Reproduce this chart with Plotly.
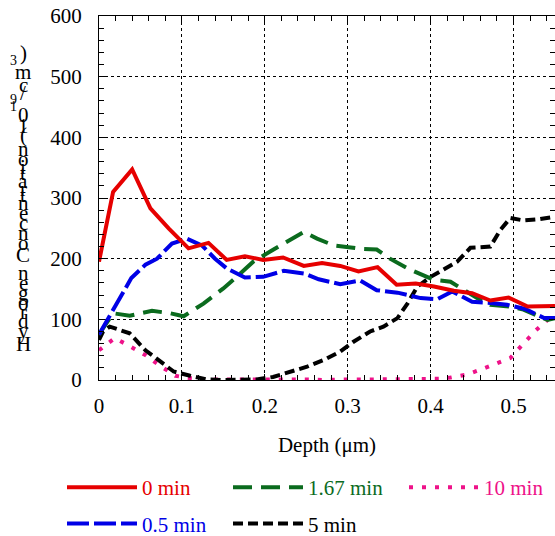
import plotly.graph_objects as go

# ---------------- data ----------------
x_0min = [0, 0.017, 0.040, 0.062, 0.084, 0.108, 0.132, 0.154, 0.176, 0.198, 0.222,
          0.247, 0.269, 0.291, 0.313, 0.336, 0.359, 0.382, 0.404, 0.428, 0.450,
          0.472, 0.494, 0.517, 0.550]
y_0min = [195, 310, 347, 283, 250, 217, 226, 198, 204, 198, 202,
          188, 193, 188, 179, 186, 157, 159, 154, 147, 143,
          131, 136, 121, 122]

x_05min = [0, 0.019, 0.039, 0.056, 0.070, 0.088, 0.106, 0.124, 0.140, 0.154, 0.176,
           0.198, 0.223, 0.249, 0.265, 0.291, 0.315, 0.335, 0.360, 0.388, 0.408,
           0.426, 0.450, 0.472, 0.492, 0.514, 0.537, 0.550]
y_05min = [75, 121, 168, 190, 200, 225, 233, 222, 200, 184, 169,
           170, 180, 175, 166, 158, 164, 148, 144, 135, 133,
           146, 129, 127, 124, 117, 102, 102]

x_167min = [0, 0.017, 0.037, 0.064, 0.086, 0.102, 0.126, 0.150, 0.166, 0.186, 0.209,
            0.231, 0.247, 0.263, 0.283, 0.301, 0.317, 0.335, 0.351, 0.372, 0.388,
            0.404, 0.424, 0.440, 0.456, 0.472, 0.496, 0.512, 0.541, 0.550]
y_167min = [75, 110, 106, 114, 110, 105, 126, 151, 170, 195, 214,
            232, 244, 233, 222, 219, 216, 215, 200, 184, 175,
            165, 162, 148, 135, 124, 121, 116, 99, 102]

x_5min = [0, 0.005, 0.013, 0.037, 0.056, 0.074, 0.090, 0.110, 0.130, 0.150, 0.170,
          0.190, 0.210, 0.231, 0.251, 0.271, 0.291, 0.307, 0.327, 0.343, 0.360,
          0.372, 0.384, 0.400, 0.416, 0.432, 0.448, 0.472, 0.484, 0.496, 0.512,
          0.531, 0.550]
y_5min = [66, 80, 88, 77, 49, 30, 14, 7, 1, 0, 0,
          1, 5, 14, 22, 33, 47, 63, 80, 88, 102,
          126, 154, 170, 182, 195, 218, 220, 247, 267, 263,
          265, 269]

x_10min = [0, 0.019, 0.037, 0.056, 0.072, 0.092, 0.110, 0.130, 0.150, 0.170, 0.190,
           0.210, 0.230, 0.250, 0.270, 0.290, 0.310, 0.330, 0.350, 0.370, 0.390,
           0.410, 0.424, 0.444, 0.462, 0.478, 0.496, 0.512, 0.527, 0.545, 0.550]
y_10min = [49, 69, 56, 41, 25, 7, 3, 1, 1, 1, 2,
           2, 1, 1, 0, 1, 1, 1, 1, 1, 1,
           2, 4, 9, 18, 27, 36, 60, 82, 104, 104]

series_names = ["0 min", "0.5 min", "1.67 min", "5 min", "10 min"]
x_ticks = [0, 0.1, 0.2, 0.3, 0.4, 0.5]
x_tick_labels = ["0", "0.1", "0.2", "0.3", "0.4", "0.5"]
y_ticks = [0, 100, 200, 300, 400, 500, 600]
x_title = "Depth (μm)"
y_title_parts = [("Hydrogen Concentration (10", False), ("19", True), ("/cm", False),
                 ("3", True), (")", False)]

# ---------------- layout constants ----------------
FONT = "Liberation Serif"
W, H = 555, 536
L, R, T, B = 99, 0, 16, 156
PW, PH = W - L - R, H - T - B

fig = go.Figure()

def add(xs, ys, name, color, dash, legend, rank):
    fig.add_trace(go.Scatter(
        x=xs, y=ys, mode="lines",
        name=f"<span style='color:{color}'>{name}</span>",
        line=dict(color=color, width=4, dash=dash),
        legend=legend, legendgroup=name, legendrank=rank, hoverinfo="skip"))

add(x_10min, y_10min, series_names[4], "#EE1289", "4px,9px", "legend3", 1)
add(x_5min, y_5min, series_names[3], "#000000", "10px,5px", "legend2", 2)
add(x_167min, y_167min, series_names[2], "#0B6B1E", "19px,9px", "legend2", 1)
add(x_05min, y_05min, series_names[1], "#0000E6", "22px,5px", "legend", 2)
add(x_0min, y_0min, series_names[0], "#E60000", "solid", "legend", 1)

axis_common = dict(
    showline=True, linecolor="black", linewidth=1, mirror="ticks",
    ticks="inside", ticklen=6, tickcolor="black", tickwidth=1,
    showgrid=True, gridcolor="black", gridwidth=1, griddash="3px,3px",
    zeroline=False, tickfont=dict(family=FONT, size=21, color="black"),
)

fig.update_xaxes(range=[0, 0.55], tickvals=x_ticks, ticktext=x_tick_labels,
                 minor=dict(dtick=0.02, tick0=0, ticks="inside", ticklen=5,
                            tickcolor="black", showgrid=False),
                 ticklabelstandoff=7,
                 title=dict(text=x_title, font=dict(family=FONT, size=21, color="black"),
                            standoff=20),
                 **axis_common)
fig.update_yaxes(range=[0, 600], tickvals=y_ticks,
                 minor=dict(dtick=20, tick0=0, ticks="inside", ticklen=5,
                            tickcolor="black", showgrid=False),
                 ticklabelstandoff=12,
                 **axis_common)

# y title: upright characters stacked along the rotated baseline (as in the reference)
ADV = {'H': 722, 'y': 500, 'd': 500, 'r': 333, 'o': 500, 'g': 500, 'e': 444, 'n': 500,
       ' ': 250, 'C': 667, 'c': 444, 't': 278, 'a': 444, 'i': 278, '(': 333, ')': 333,
       '1': 500, '0': 500, '9': 500, '3': 500, '/': 278, 'm': 778}
annotations = []
pos = 0.0
scale = 0.021
first_center = None
for text, sup in y_title_parts:
    for ch in text:
        w = ADV.get(ch, 500) * (0.7 if sup else 1.0)
        center = pos + w / 2
        pos += w
        if first_center is None:
            first_center = center
        if ch == ' ':
            continue
        py = 344 - (center - first_center) * scale
        px = 13 if sup else 23
        annotations.append(dict(
            text=ch, x=(px - L) / PW, y=(H - B - py) / PH, xref="paper", yref="paper",
            xanchor="center", yanchor="middle", showarrow=False,
            font=dict(family=FONT, size=14 if sup else 21, color="black")))

legend_common = dict(orientation="v", xref="container", yref="container",
                     xanchor="left", yanchor="top", itemwidth=70,
                     tracegroupgap=6, bgcolor="rgba(0,0,0,0)",
                     font=dict(family=FONT, size=21, color="black"))
legend_top = 1 - 467 / H

fig.update_layout(
    width=W, height=H, margin=dict(l=L, r=R, t=T, b=B, autoexpand=False),
    plot_bgcolor="white", paper_bgcolor="white",
    font=dict(family=FONT, size=21, color="black"),
    annotations=annotations,
    legend=dict(x=62 / W, y=legend_top, **legend_common),
    legend2=dict(x=228 / W, y=legend_top, **legend_common),
    legend3=dict(x=404 / W, y=legend_top, **legend_common),
)

fig.write_html("out.html", config={"displayModeBar": False},
               post_script="document.body.style.margin='0px';")
